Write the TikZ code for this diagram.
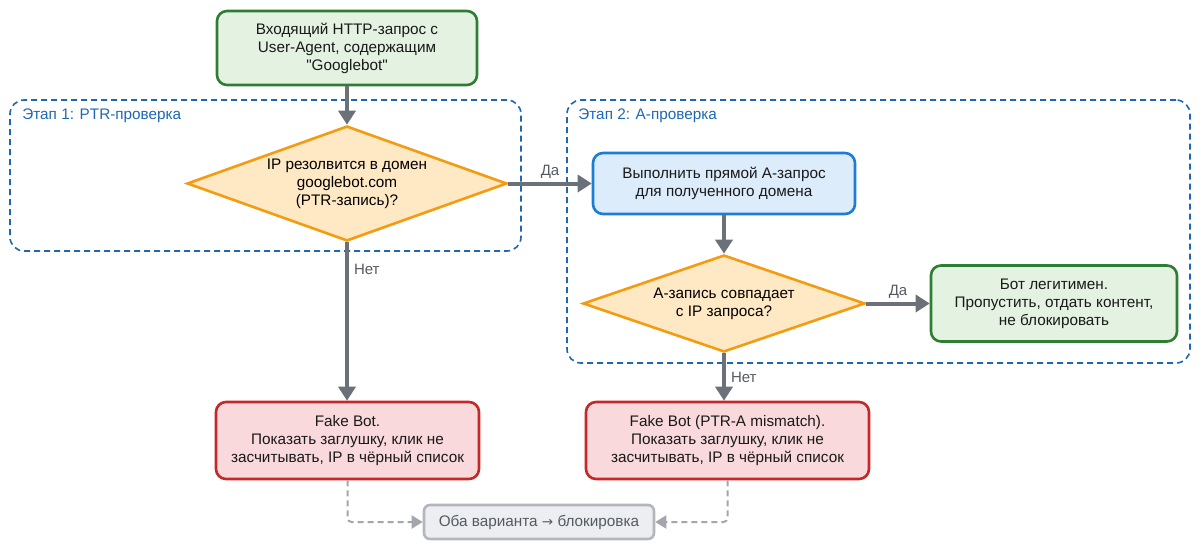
\documentclass[tikz,border=0pt]{standalone}
\usepackage{fontspec}
\setmainfont{Liberation Sans}[Ligatures=TeXOff]
\newfontfamily\symfont{DejaVu Sans}
\usetikzlibrary{arrows.meta, positioning, shapes.geometric}
\definecolor{okgreen}{HTML}{2E7D32}
\definecolor{okfill}{HTML}{E4F2E2}
\definecolor{askorange}{HTML}{F39C12}
\definecolor{askfill}{HTML}{FFE8C4}
\definecolor{actblue}{HTML}{1E7BD6}
\definecolor{actfill}{HTML}{DCECFA}
\definecolor{badred}{HTML}{C62828}
\definecolor{badfill}{HTML}{F9D9DC}
\definecolor{endgray}{HTML}{B3B6BC}
\definecolor{endfill}{HTML}{EDEEF2}
\definecolor{stageblue}{HTML}{1F68B0}
\definecolor{flowgray}{HTML}{6B7079}
\definecolor{dashgray}{HTML}{A3A6AD}
\definecolor{txtgray}{HTML}{555A62}

\begin{document}
\begin{tikzpicture}[x=1pt, y=-1pt,
  box/.style={draw, rounded corners=10pt, line width=2.6pt, align=center,
    font=\fontsize{15.3}{18}\selectfont, inner sep=0pt, text=black!90},
  okbox/.style={box, fill=okfill, draw=okgreen},
  actbox/.style={box, fill=actfill, draw=actblue},
  badbox/.style={box, fill=badfill, draw=badred},
  endbox/.style={box, fill=endfill, draw=endgray, rounded corners=6pt,
    text=txtgray},
  ask/.style={diamond, aspect=3, draw=askorange, fill=askfill,
    line width=2.6pt, align=center, inner sep=0pt,
    font=\fontsize{15.3}{18}\selectfont},
  stage/.style={draw=stageblue, dashed, dash pattern=on 6pt off 4pt,
    line width=1.6pt, rounded corners=14pt},
  stagelbl/.style={text=stageblue, font=\fontsize{15.3}{18}\selectfont,
    anchor=west, inner sep=0pt},
  lbl/.style={text=txtgray, font=\fontsize{15}{18}\selectfont, inner sep=3pt},
  arr/.style={-{Triangle[length=14pt, width=17pt]}, line width=4pt, flowgray},
  dasharr/.style={-{Triangle[length=11pt, width=13pt]}, line width=2pt,
    dashgray, dash pattern=on 6pt off 4pt, rounded corners=4pt}
]
  \useasboundingbox (0,0) rectangle (1200,549);

  % Stages
  \node[stage, minimum width=511pt, minimum height=151pt] (stage1)
    at (265.5,175.5) {};
  \node[stagelbl] (stage1lbl) at ([xshift=13pt, yshift=-17pt]stage1.north west)
    {Этап 1: PTR-проверка};
  \node[stage, minimum width=623pt, minimum height=263pt] (stage2)
    at (878.5,231.5) {};
  \node[stagelbl] (stage2lbl) at ([xshift=12pt, yshift=-17pt]stage2.north west)
    {Этап 2: A-проверка};

  % Request
  \node[okbox, minimum width=260pt, minimum height=74pt] (req) at (347,48)
    {Входящий HTTP-запрос с\\User-Agent, содержащим\\"Googlebot"};

  % PTR check
  \node[ask, minimum width=320pt, minimum height=115pt] (ptr) at (347,183.5)
    {IP резолвится в домен\\googlebot.com\\(PTR-запись)?};
  \draw[arr] (req) -- (ptr);

  % A check
  \node[actbox, minimum width=262pt, minimum height=61pt] (alook)
    at (724,183.5) {Выполнить прямой A-запрос\\для полученного домена};
  \node[ask, minimum width=282pt, minimum height=97pt] (amatch) at (724,303.5)
    {A-запись совпадает\\с IP запроса?};
  \draw[arr] (ptr) -- node[lbl, above] {Да} (alook);
  \draw[arr] (alook) -- (amatch);

  % Results
  \node[okbox, minimum width=246pt, minimum height=76pt] (legit) at (1054,303.5)
    {Бот легитимен.\\Пропустить, отдать контент,\\не блокировать};
  \draw[arr] (amatch) -- node[lbl, above] {Да} (legit);

  \node[badbox, minimum width=263pt, minimum height=77pt] (fake1)
    at (347.5,440.5)
    {Fake Bot.\\Показать заглушку, клик не\\засчитывать, IP в чёрный список};
  \draw[arr] (ptr.south) -- node[lbl, right, pos=0.17, xshift=2pt] {Нет}
    (ptr.south |- fake1.north);

  \node[badbox, minimum width=283pt, minimum height=77pt] (fake2)
    at (727.5,440.5)
    {Fake Bot (PTR-A mismatch).\\Показать заглушку, клик не\\засчитывать,
     IP в чёрный список};
  \draw[arr] (amatch.south) -- node[lbl, right, pos=0.5, xshift=2pt] {Нет}
    (amatch.south |- fake2.north);

  % Block
  \node[endbox, minimum width=230pt, minimum height=34pt] (block) at (539,522)
    {Оба варианта {\symfont\fontsize{13.5}{18}\selectfont →} блокировка};
  \draw[dasharr] (fake1.south) |- (block.west);
  \draw[dasharr] (fake2.south) |- (block.east);
\end{tikzpicture}
\end{document}
